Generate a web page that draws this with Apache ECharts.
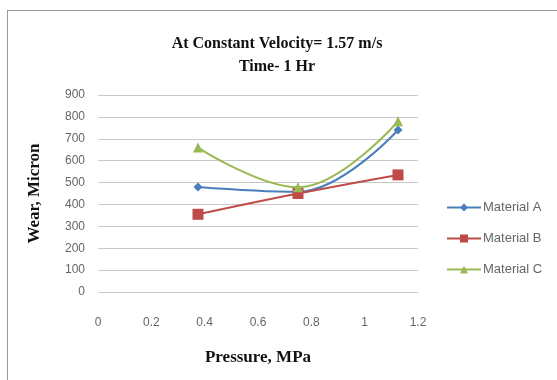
<!DOCTYPE html>
<html>
<head>
<meta charset="utf-8">
<title>Wear vs Pressure</title>
<script src="https://cdn.jsdelivr.net/npm/echarts@6/dist/echarts.min.js"></script>
<style>
  html, body { margin: 0; padding: 0; background: #fff; }
  #frame { position: absolute; left: 7px; top: 10px; width: 560px; height: 380px; border: 1px solid #999; box-sizing: border-box; }
  #main { position: absolute; left: 0; top: 0; width: 557px; height: 380px; }
</style>
</head>
<body>
<div id="frame"></div>
<div id="main"></div>
<script>
// pressure (MPa) values and wear (micron) per material
var pressure = [0.375, 0.75, 1.125];
var materialA = [480, 458, 740];
var materialB = [355, 450, 535];
var materialC = [660, 478, 780];
var seriesNames = ['Material A', 'Material B', 'Material C'];

var chart = echarts.init(document.getElementById('main'));

function pairs(ys) {
    var out = [];
    for (var i = 0; i < pressure.length; i++) out.push([pressure[i], ys[i]]);
    return out;
}

var serif = 'Liberation Serif';
var option = {
    animation: false,
    title: {
        text: 'At Constant Velocity= 1.57 m/s\nTime- 1 Hr',
        left: 272, top: 27, textAlign: 'center',
        textStyle: { fontFamily: serif, fontWeight: 'bold', fontSize: 16, color: '#111', lineHeight: 23 }
    },
    legend: {
        orient: 'vertical', left: 441, top: 196, itemGap: 18,
        itemWidth: 34, itemHeight: 10,
        textStyle: { fontFamily: 'Liberation Sans', fontSize: 13, color: '#666', padding: [0, 0, 0, -3] },
        data: seriesNames
    },
    grid: { left: 98, right: 139, top: 95, bottom: 88 },
    xAxis: {
        type: 'value', min: 0, max: 1.2, interval: 0.2,
        name: 'Pressure, MPa', nameLocation: 'middle', nameGap: 57,
        nameTextStyle: { fontFamily: serif, fontWeight: 'bold', fontSize: 17, color: '#111' },
        axisLine: { show: false }, axisTick: { show: false }, splitLine: { show: false },
        axisLabel: { color: '#666', fontSize: 12, margin: 25, fontFamily: 'Liberation Sans' }
    },
    yAxis: {
        type: 'value', min: 0, max: 900, interval: 100,
        name: 'Wear, Micron', nameLocation: 'middle', nameGap: 55, nameRotate: 90,
        nameTextStyle: { fontFamily: serif, fontWeight: 'bold', fontSize: 17, color: '#111' },
        axisLine: { show: false }, axisTick: { show: false },
        splitLine: { lineStyle: { color: '#c8c8c8', width: 1 } },
        axisLabel: { color: '#666', fontSize: 12, margin: 13, fontFamily: 'Liberation Sans' }
    },
    series: [
        { name: seriesNames[0], type: 'line', smooth: 0.4, data: pairs(materialA),
          symbol: 'diamond', symbolSize: 9, color: '#4a7ebb', lineStyle: { width: 2 } },
        { name: seriesNames[1], type: 'line', smooth: 0.4, data: pairs(materialB),
          symbol: 'rect', symbolSize: 11, color: '#be4b48', lineStyle: { width: 2 } },
        { name: seriesNames[2], type: 'line', smooth: 0.4, data: pairs(materialC),
          symbol: 'triangle', symbolSize: 10, color: '#98b954', lineStyle: { width: 2 } }
    ]
};
chart.setOption(option);
</script>
</body>
</html>
